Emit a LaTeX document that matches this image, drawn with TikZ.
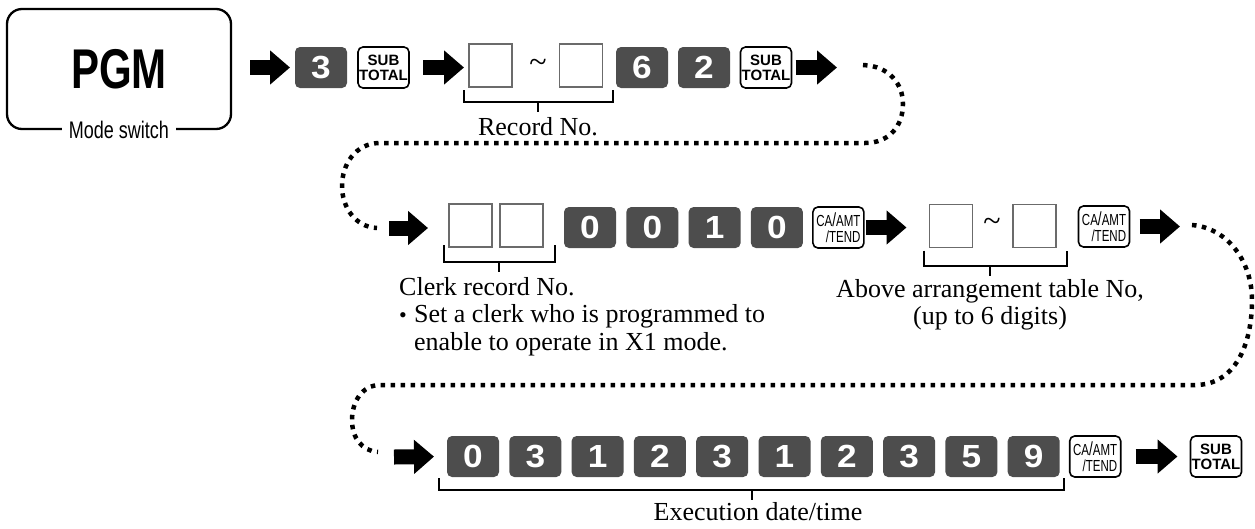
\documentclass[tikz,border=0pt]{standalone}
\usepackage{fontspec}
\usepackage{graphicx}
\setmainfont{Liberation Serif}
\setsansfont{Liberation Sans}
\newfontfamily\condsans[FakeStretch=0.75]{Liberation Sans}
\newfontfamily\keysans[FakeStretch=1.1]{Liberation Sans}
\newfontfamily\casans[FakeStretch=0.72]{Liberation Sans}
\usetikzlibrary{arrows.meta,positioning,calc}
\definecolor{keygray}{HTML}{4D4D4D}
\definecolor{slotgray}{HTML}{6B6B6B}

\tikzset{
  numkey/.style={rectangle, rounded corners=5pt, fill=keygray, text=white,
    minimum width=52pt, minimum height=41pt, inner sep=0pt, outer sep=0pt,
    font=\keysans\bfseries\fontsize{32}{32}\selectfont},
  fnkey/.style={rectangle, rounded corners=5pt, draw=black, line width=1.6pt,
    fill=white, minimum width=51pt, minimum height=41pt, inner sep=0pt,
    outer sep=0pt},
  subkey/.style={fnkey, align=center,
    font=\sffamily\bfseries\fontsize{15}{15}\selectfont},
  cakey/.style={fnkey, align=right, font=\casans\fontsize{16}{16}\selectfont},
  slot/.style={rectangle, draw=slotgray, line width=1.2pt, fill=white,
    minimum width=43pt, minimum height=43pt, inner sep=0pt, outer sep=0pt},
  blockarrow/.style={line width=15pt, -{Triangle[length=20pt,width=33pt]}},
  dotline/.style={line width=4.5pt, dash pattern=on 4.5pt off 5.5pt},
  brk/.style={line width=2pt},
  lbl/.style={font=\fontsize{26}{27.5}\selectfont, inner sep=0pt},
  tilde/.style={font=\fontsize{32}{32}\selectfont, inner sep=0pt},
}

\begin{document}
\begin{tikzpicture}[x=1pt, y=-1pt]
\useasboundingbox (0,0) rectangle (1255,528);

% mode switch
\node[draw, line width=2.3pt, rounded corners=15pt, minimum width=224pt,
      minimum height=120pt, inner sep=0pt,
      font=\condsans\bfseries\fontsize{56}{56}\selectfont]
  (pgm) at (119,69) {PGM};
\node[fill=white, inner xsep=7pt, inner ysep=0pt,
      font=\condsans\fontsize{24}{24}\selectfont]
  (mode) at (pgm.south) {Mode switch};

% row 1
\node[numkey] (k3) at (321,67.5) {3};
\node[subkey, right=11pt of k3] (sub1) {SUB\\TOTAL};
\node[slot] (rec1) at (490.5,65.5) {};
\node[tilde] (tl1) at (538,66) {\textasciitilde};
\node[slot] (rec2) at (581,65.5) {};
\node[numkey] (k6) at (642,67.5) {6};
\node[numkey, right=10pt of k6] (k2) {2};
\node[subkey, right=10.5pt of k2] (sub2) {SUB\\TOTAL};
\coordinate (r1out) at (837,67.5);

\draw[brk] ([shift={(-5,3)}]rec1.south west) |- ([shift={(10,15)}]rec2.south east)
  -- ([shift={(10,3)}]rec2.south east);
\draw[brk] ($(rec1.south west)!0.5!(rec2.south east)+(2,15)$) -- ++(0,10);
\node[lbl, anchor=base] (recno) at (538,135) {Record No.};

% row 2
\coordinate (r2in) at (389,228);
\node[slot] (clk1) at (470.5,225.5) {};
\node[slot, right=8pt of clk1] (clk2) {};
\foreach \dg [count=\i] in {0,0,1,0}
  \node[numkey] (z\i) at ({590+62.3*(\i-1)},227.5) {\dg};
\node[cakey, right=10pt of z4] (ca1)
  {CA{\fontsize{19}{16}\selectfont/}AMT\\/TEND};
\node[slot] (tab1) at (951,226) {};
\node[tilde] (tl2) at (992,225) {\textasciitilde};
\node[slot] (tab2) at (1034.5,226) {};
\node[cakey] (ca2) at (1104,226.5)
  {CA{\fontsize{19}{16}\selectfont/}AMT\\/TEND};
\coordinate (r2out) at (1180,226.5);

\draw[brk] ([shift={(-5,-2)}]clk1.south west) |- ([shift={(12,15)}]clk2.south east)
  -- ([shift={(12,-2)}]clk2.south east);
\draw[brk] ($(clk1.south west)!0.5!(clk2.south east)+(3,15)$) -- ++(0,10);
\node[lbl, align=left, anchor=north west] (clerkno) at (399,277)
  {Clerk record No.\\
   \makebox[15pt][l]{\fontsize{22}{22}\selectfont\textbullet}Set a clerk who is programmed to\\
   \hspace*{15pt}enable to operate in X1 mode.};

\draw[brk] ([shift={(-6,3)}]tab1.south west) |- ([shift={(11,18)}]tab2.south east)
  -- ([shift={(11,3)}]tab2.south east);
\draw[brk] ($(tab1.south west)!0.5!(tab2.south east)+(-3,18)$) -- ++(0,10);
\node[lbl, align=center, anchor=north] (tabno) at (990,279)
  {Above arrangement table No,\\(up to 6 digits)};

% row 3
\coordinate (r3in) at (394,457);
\foreach \dg [count=\i] in {0,3,1,2,3,1,2,3,5,9}
  \node[numkey] (d\i) at ({473+62.3*(\i-1)},456.5) {\dg};
\node[cakey, right=10pt of d10] (ca3)
  {CA{\fontsize{19}{16}\selectfont/}AMT\\/TEND};
\node[subkey] (sub3) at (1216,456.5) {SUB\\TOTAL};

\draw[brk] ([shift={(-8,1)}]d1.south west) |- ([shift={(4,13)}]d10.south east)
  -- ([shift={(4,1)}]d10.south east);
\draw[brk] ($(d1.south west)!0.5!(d10.south east)+(-1,13)$) -- ++(0,10);
\node[lbl, anchor=base] (execno) at (758,520) {Execution date/time};

% arrows
\draw[blockarrow, shorten <=18pt, shorten >=5pt] (pgm.east |- k3.west) -- (k3.west);
\draw[blockarrow, shorten <=14pt, shorten >=5pt] (sub1.east) -- (rec1.west |- sub1.east);
\draw[blockarrow, shorten <=4pt] (sub2.east) -- (r1out);
\draw[blockarrow, shorten >=21pt] (r2in) -- (clk1.west |- r2in);
\draw[blockarrow, shorten <=2pt, shorten >=23pt] (ca1.east) -- (tab1.west |- ca1.east);
\draw[blockarrow, shorten <=10pt] (ca2.east) -- (r2out);
\draw[blockarrow, shorten >=13pt] (r3in) -- (d1.west);
\draw[blockarrow, shorten <=15pt, shorten >=13pt] (ca3.east) -- (sub3.west);

% dotted returns
\coordinate (dot1a) at (863,65);
\coordinate (dot1b) at (377,228);
\coordinate (dot2a) at (1192,225);
\coordinate (dot2b) at (378,452);
\draw[dotline] (dot1a) .. controls (890,66) and (903,85) .. (903,104)
  .. controls (903,125) and (890,143) .. (865,143) -- (380,143)
  .. controls (355,143) and (342,165) .. (342,186)
  .. controls (342,207) and (355,227) .. (dot1b);
\draw[dotline] (dot2a) .. controls (1228,228) and (1252,262) .. (1252,300)
  .. controls (1252,345) and (1235,385) .. (1195,385) -- (380,385)
  .. controls (362,385) and (352,402) .. (352,420)
  .. controls (352,438) and (362,451) .. (dot2b);
\end{tikzpicture}
\end{document}
